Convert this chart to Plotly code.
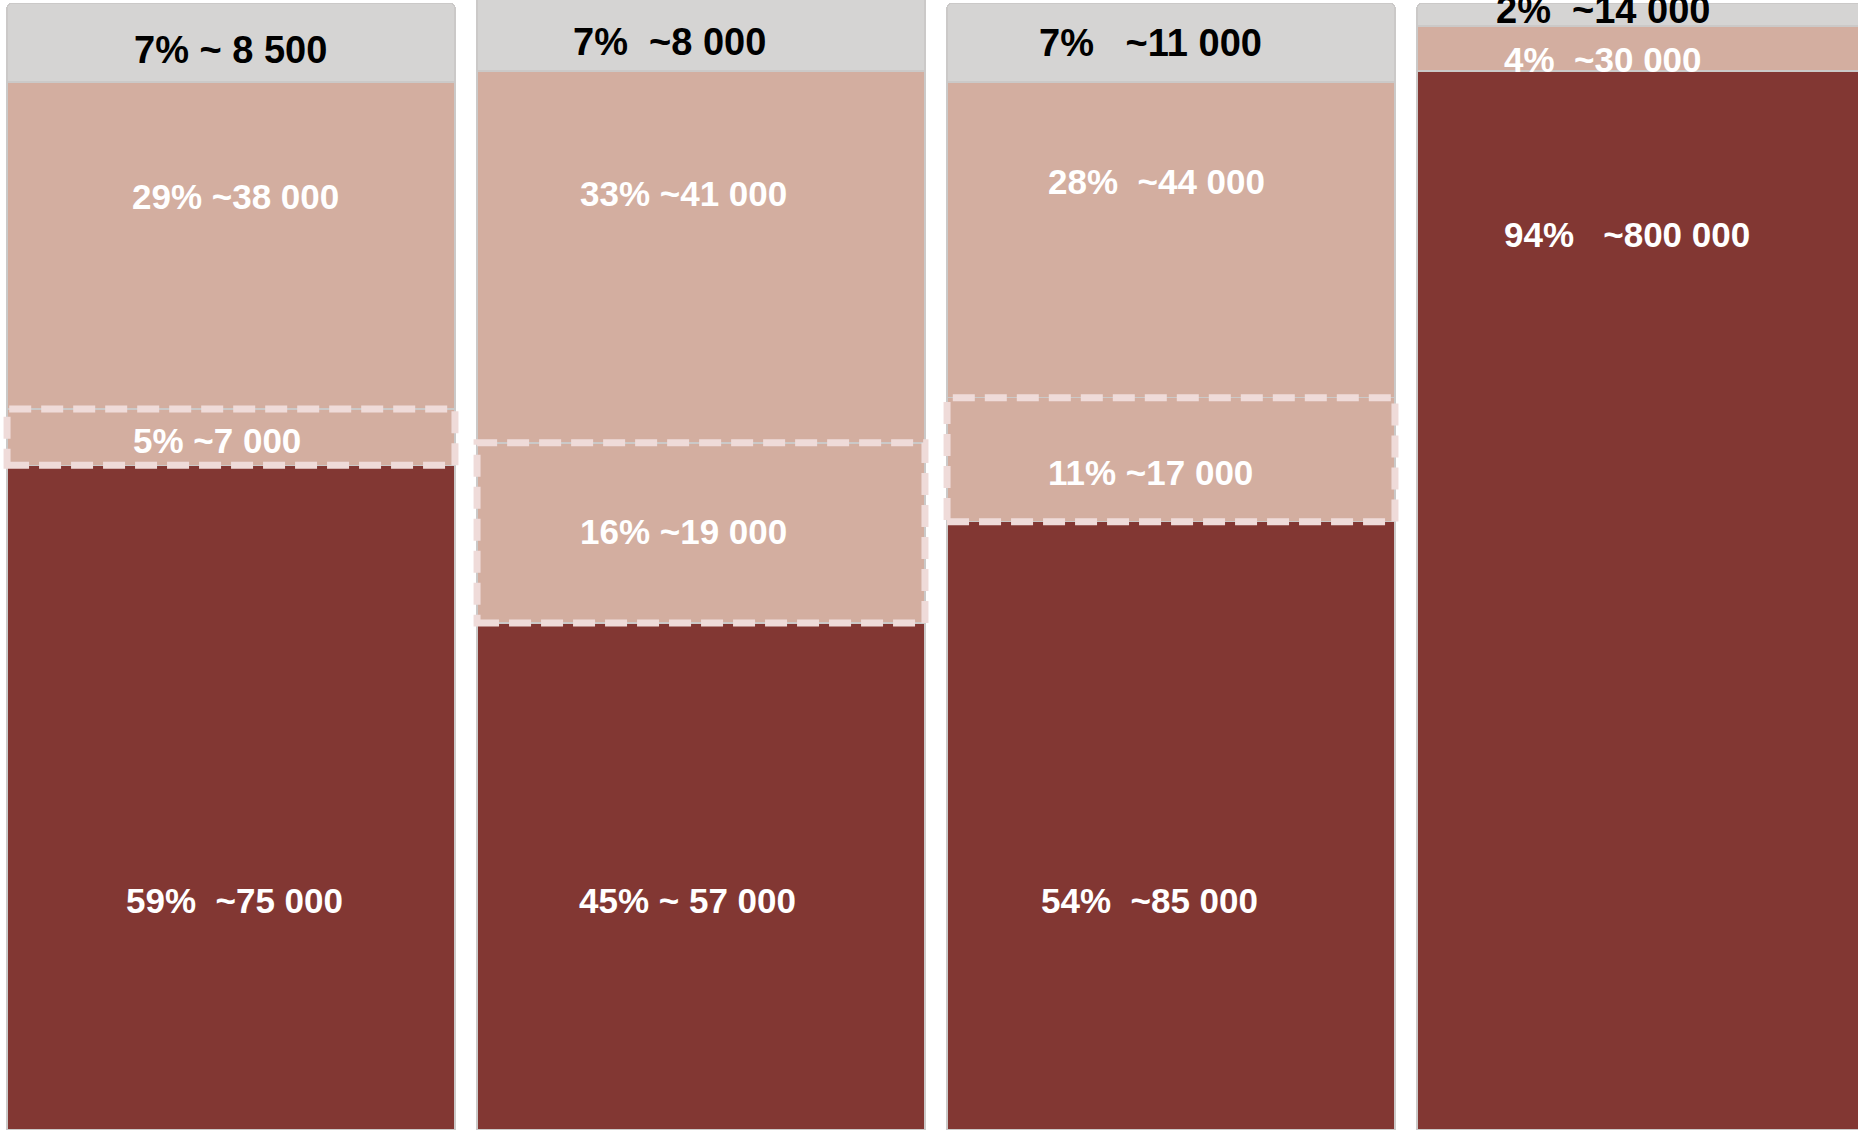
import plotly.graph_objects as go

# Four groups, stacked shares (%) with approximate counts
groups = ["A", "B", "C", "D"]

share_main = [59, 45, 54, 94]        # dark base segment
share_partial = [5, 16, 11, 0]       # highlighted (dashed) segment
share_other = [29, 33, 28, 4]        # light segment
share_rest = [7, 7, 7, 2]            # grey top segment

label_main = ["59%\u00a0\u00a0~75\u00a0000", "45%\u00a0~\u00a057\u00a0000",
              "54%\u00a0\u00a0~85\u00a0000", "94%\u00a0\u00a0\u00a0~800\u00a0000"]
label_partial = ["5%\u00a0~7\u00a0000", "16%\u00a0~19\u00a0000", "11%\u00a0~17\u00a0000", ""]
label_other = ["29%\u00a0~38\u00a0000", "33%\u00a0~41\u00a0000",
               "28%\u00a0\u00a0~44\u00a0000", "4%\u00a0\u00a0~30\u00a0000"]
label_rest = ["7%\u00a0~\u00a08\u00a0500", "7%\u00a0\u00a0~8\u00a0000",
              "7%\u00a0\u00a0\u00a0~11\u00a0000", "2%\u00a0\u00a0~14\u00a0000"]

# styling
C_MAIN = "#823733"
C_LIGHT = "#d3aea0"
C_GREY = "#d5d4d3"
C_EDGE = "#cbc9c8"
C_DASH = "#efdbd9"
BAR_W = 0.953
FONT = "Liberation Sans, Arial, sans-serif"

x = list(range(len(groups)))

fig = go.Figure()
for vals, col in [(share_main, C_MAIN), (share_partial, C_LIGHT),
                  (share_other, C_LIGHT), (share_rest, C_GREY)]:
    fig.add_trace(go.Bar(
        x=x, y=vals, width=BAR_W,
        marker=dict(color=col, line=dict(color=C_EDGE, width=1.5)),
        hoverinfo="skip", showlegend=False,
    ))

# dashed outline around the highlighted segment
for i in x:
    if share_partial[i] > 0:
        y0 = share_main[i]
        y1 = share_main[i] + share_partial[i]
        fig.add_shape(type="rect", xref="x", yref="y",
                      x0=i - BAR_W / 2, x1=i + BAR_W / 2, y0=y0, y1=y1,
                      line=dict(color=C_DASH, width=7, dash="22px,10px"),
                      fillcolor="rgba(0,0,0,0)")

# label anchors: (x offset from bar centre, y in axis units)
pos_rest = [(-0.002, 95.9), (-0.068, 96.6), (-0.043, 96.5), (-0.08, 99.4)]
pos_other = [(0.01, 82.9), (-0.038, 83.1), (-0.03, 84.2), (-0.08, 95.0)]
pos_partial = [(-0.03, 61.2), (-0.038, 53.1), (-0.043, 58.4), (0, 0)]
pos_main = [(0.008, 20.4), (-0.028, 20.4), (-0.045, 20.4), (-0.03, 79.5)]

def add_labels(texts, pos, color, size):
    for i, (t, (dx, yy)) in enumerate(zip(texts, pos)):
        if not t:
            continue
        fig.add_annotation(x=i + dx, y=yy, xref="x", yref="y", text="<b>" + t + "</b>",
                           showarrow=False, xanchor="center", yanchor="middle",
                           font=dict(family=FONT, size=size, color=color))

add_labels(label_rest, pos_rest, "#000000", 38)
add_labels(label_other, pos_other, "#ffffff", 35)
add_labels(label_partial, pos_partial, "#ffffff", 35)
add_labels(label_main, pos_main, "#ffffff", 35)

fig.update_layout(
    barmode="stack",
    width=1858, height=1130,
    margin=dict(l=0, r=0, t=0, b=0),
    paper_bgcolor="white", plot_bgcolor="white",
    xaxis=dict(range=[-0.4915, 3.4617], visible=False, fixedrange=True),
    yaxis=dict(range=[0, 100.3], visible=False, fixedrange=True),
    barcornerradius=5,
)

fig.write_html("out.html", config={"displayModeBar": False})
